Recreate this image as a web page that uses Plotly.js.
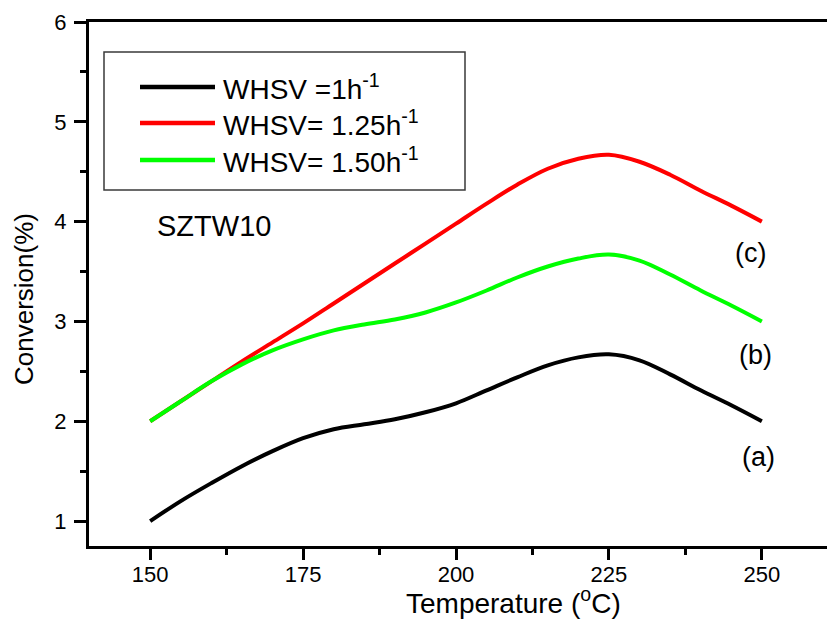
<!DOCTYPE html>
<html>
<head>
<meta charset="utf-8">
<script src="https://cdn.plot.ly/plotly-3.0.1.min.js"></script>
<style>html,body{margin:0;padding:0;background:#fff;}#chart{width:827px;height:634px;}</style>
</head>
<body>
<div id="chart"></div>
<script>
// ---- data ----
const temperature = [150,155,160,165,170,175,180,185,190,195,200,205,210,215,220,225,230,235,240,245,250];
const conv_whsv100 = [1.00,1.20,1.38,1.55,1.70,1.83,1.92,1.97,2.02,2.09,2.18,2.31,2.44,2.56,2.64,2.67,2.61,2.47,2.31,2.16,2.00];
const conv_whsv125 = [2.00,2.20,2.40,2.60,2.79,2.98,3.18,3.38,3.58,3.78,3.98,4.18,4.37,4.53,4.63,4.67,4.60,4.47,4.31,4.16,4.00];
const conv_whsv150 = [2.00,2.20,2.40,2.57,2.71,2.82,2.91,2.97,3.02,3.09,3.19,3.31,3.44,3.55,3.63,3.67,3.61,3.47,3.31,3.16,3.00];
const seriesNames = ['WHSV =1h<sup>-1</sup>','WHSV= 1.25h<sup>-1</sup>','WHSV= 1.50h<sup>-1</sup>'];
const seriesColors = ['#000000','#ff0000','#00ff00'];
const curveLabels = ['(a)','(c)','(b)'];
const xTickVals = [150,175,200,225,250];
const yTickVals = [1,2,3,4,5,6];
const sampleName = 'SZTW10';
const xTitle = 'Temperature (<sup>o</sup>C)';
const yTitle = 'Conversion(%)';

const FONT = 'Liberation Sans, Arial, sans-serif';
const W = 827, H = 634, ML = 89, MR = 0, MT = 22, MB = 88;
const PW = W - ML - MR, PH = H - MT - MB;
const px = x => (x - ML) / PW;      // pixel -> paper x
const py = y => (H - MB - y) / PH;  // pixel -> paper y

const seriesData = [conv_whsv100, conv_whsv125, conv_whsv150];
const traces = seriesData.map((ys, i) => ({
  x: temperature, y: ys, type: 'scatter', mode: 'lines', name: seriesNames[i],
  line: {color: seriesColors[i], width: 4, shape: 'spline', smoothing: 1},
  showlegend: false, hoverinfo: 'x+y'
}));

// manual legend box (to reproduce the long line samples)
const shapes = [{
  type: 'rect', xref: 'paper', yref: 'paper',
  x0: px(104), x1: px(465), y0: py(52), y1: py(190),
  line: {color: '#3a3a3a', width: 1.5}, fillcolor: 'rgba(0,0,0,0)'
}];
const legendY = [87, 123, 160];
const annotations = [];
seriesNames.forEach((n, i) => {
  shapes.push({type: 'line', xref: 'paper', yref: 'paper',
    x0: px(140), x1: px(215), y0: py(legendY[i]), y1: py(legendY[i]),
    line: {color: seriesColors[i], width: 4.5}});
  annotations.push({xref: 'paper', yref: 'paper', x: px(221), y: py(legendY[i]),
    xanchor: 'left', yanchor: 'middle', text: n, showarrow: false,
    font: {family: FONT, size: 28, color: '#000'}});
});
// curve labels placed next to each curve end
const labelPos = [[249.4, 1.64], [248.2, 3.69], [248.9, 2.66]];
curveLabels.forEach((t, i) => annotations.push({x: labelPos[i][0], y: labelPos[i][1],
  text: t, showarrow: false, xanchor: 'center', yanchor: 'middle',
  font: {family: FONT, size: 27, color: '#000'}}));
annotations.push({x: 160.4, y: 3.96, text: sampleName, showarrow: false,
  xanchor: 'center', yanchor: 'middle', font: {family: FONT, size: 29, color: '#000'}});
annotations.push({xref: 'paper', yref: 'paper', x: px(513), y: py(601), text: xTitle,
  showarrow: false, xanchor: 'center', yanchor: 'middle', font: {family: FONT, size: 28, color: '#000'}});
annotations.push({xref: 'paper', yref: 'paper', x: px(24), y: py(299), text: yTitle, textangle: -90,
  showarrow: false, xanchor: 'center', yanchor: 'middle', font: {family: FONT, size: 26, color: '#000'}});

const layout = {
  width: W, height: H,
  margin: {l: ML, r: MR, t: MT, b: MB, pad: 0},
  paper_bgcolor: '#fff', plot_bgcolor: '#fff',
  font: {family: FONT, color: '#000'},
  showlegend: false,
  xaxis: {
    range: [140, 260.65], tickvals: xTickVals, ticktext: xTickVals.map(String),
    ticks: 'outside', ticklen: 11, tickwidth: 3, tickcolor: '#000',
    showline: true, linewidth: 3, linecolor: '#000', mirror: true,
    showgrid: false, zeroline: false, ticklabelstandoff: -4,
    tickfont: {family: FONT, size: 22, color: '#000'},
    minor: {tick0: 150, dtick: 12.5, ticks: 'outside', ticklen: 6, tickwidth: 3, tickcolor: '#000', showgrid: false}
  },
  yaxis: {
    range: [0.75, 6], tickvals: yTickVals, ticktext: yTickVals.map(String),
    ticks: 'outside', ticklen: 12, tickwidth: 3, tickcolor: '#000',
    showline: true, linewidth: 3, linecolor: '#000', mirror: false,
    showgrid: false, zeroline: false, ticklabelstandoff: 3,
    tickfont: {family: FONT, size: 22, color: '#000'},
    minor: {tick0: 1, dtick: 0.5, ticks: 'outside', ticklen: 6, tickwidth: 3, tickcolor: '#000', showgrid: false}
  },
  shapes: shapes,
  annotations: annotations
};

Plotly.newPlot('chart', traces, layout, {displayModeBar: false, staticPlot: true});
</script>
</body>
</html>
